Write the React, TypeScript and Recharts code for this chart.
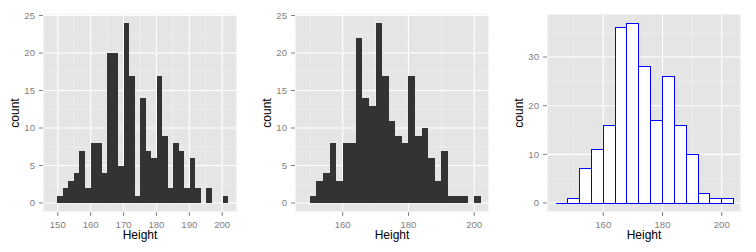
import { BarChart, Bar, XAxis, YAxis, CartesianGrid } from 'recharts';

// three histograms of the same Height sample, different bin widths
const p1Start = 149.9;
const p1Width = 1.675;
const p1Counts = [1, 2, 3, 4, 7, 2, 8, 8, 4, 20, 20, 5, 24, 17, 1, 14, 7, 6, 17, 9, 2, 8, 7, 2, 6, 2, 0, 2, 0, 0, 1];

const p2Start = 150;
const p2Width = 2;
const p2Counts = [1, 3, 4, 8, 3, 8, 8, 22, 14, 13, 24, 17, 11, 9, 8, 17, 9, 10, 6, 3, 7, 1, 1, 1, 0, 1];

const p3Start = 144;
const p3Width = 4;
const p3Counts = [0, 1, 7, 11, 16, 36, 37, 28, 17, 26, 16, 10, 2, 1, 1];

const p1XTicks = [150, 160, 170, 180, 190, 200];
const p1XMinor = [155, 165, 175, 185, 195];
const wideXTicks = [160, 180, 200];
const wideXMinor = [150, 170, 190];
const yTicks25 = [0, 5, 10, 15, 20, 25];
const yMinor25 = [2.5, 7.5, 12.5, 17.5, 22.5];
const yTicks30 = [0, 10, 20, 30];
const yMinor30 = [5, 15, 25, 35];

type BinRow = { x: number; count: number };

function toBins(start: number, width: number, counts: number[]): BinRow[] {
  return counts.map((c, i) => ({ x: start + (i + 0.5) * width, count: c }));
}

const W = 252;
const H = 252;
const MARGIN = { top: 14, right: 15, bottom: 0, left: 0 };
const Y_AXIS_W = 43;
const PLOT_W = W - MARGIN.left - MARGIN.right - Y_AXIS_W;

const tickStyle = { fill: '#7F7F7F', fontSize: 9.6 };
const tickLine = { stroke: '#7F7F7F' };

// recharts floors bar widths to whole pixels, which leaves seams between
// contiguous bins, so the shape uses the full bin width instead
function makeShape(binPx: number, outline: boolean) {
  return (props: any) => {
    const { x, y, height } = props;
    if (outline) {
      return (
        <path
          d={`M${x},${y}h${binPx}v${height}h${-binPx}Z`}
          fill='#FFFFFF'
          stroke='#0000FF'
          strokeWidth={1}
          shapeRendering='crispEdges'
        />
      );
    }
    if (!height) return <g />;
    return <rect x={x} y={y} width={binPx} height={height} fill='#333333' shapeRendering='crispEdges' />;
  };
}

const YTitle = (props: any) => {
  const vb = props.viewBox;
  const cx = vb.x + 19;
  const cy = vb.y + vb.height / 2;
  return (
    <text
      x={cx}
      y={cy}
      transform={`rotate(-90 ${cx} ${cy})`}
      textAnchor='middle'
      fontSize={12}
      fill='#000000'
    >
      count
    </text>
  );
};

interface HistProps {
  data: BinRow[];
  binWidth: number;
  xDomain: [number, number];
  xTicks: number[];
  xMinor: number[];
  yDomain: [number, number];
  yTicks: number[];
  yMinor: number[];
  outline?: boolean;
}

function Histogram({ data, binWidth, xDomain, xTicks, xMinor, yDomain, yTicks, yMinor, outline }: HistProps) {
  const binPx = (binWidth * PLOT_W) / (xDomain[1] - xDomain[0]);
  return (
    <BarChart width={W} height={H} data={data} margin={MARGIN} barCategoryGap={0} barGap={0}>
      <CartesianGrid xAxisId='minor' yAxisId='minor' fill='#E5E5E5' stroke='#F2F2F2' strokeWidth={0.6} />
      <CartesianGrid stroke='#FFFFFF' strokeWidth={1.1} />
      <XAxis xAxisId='minor' type='number' dataKey='x' domain={xDomain} ticks={xMinor} interval={0} allowDataOverflow hide />
      <YAxis yAxisId='minor' type='number' domain={yDomain} ticks={yMinor} interval={0} allowDataOverflow hide />
      <XAxis
        type='number'
        dataKey='x'
        domain={xDomain}
        ticks={xTicks}
        interval={0}
        allowDataOverflow
        height={40}
        axisLine={false}
        tickLine={tickLine}
        tickSize={4}
        tickMargin={5}
        tick={tickStyle}
        label={{ value: 'Height', position: 'insideBottom', offset: 13, fill: '#000000', fontSize: 12 }}
      />
      <YAxis
        type='number'
        domain={yDomain}
        ticks={yTicks}
        interval={0}
        allowDataOverflow
        width={Y_AXIS_W}
        axisLine={false}
        tickLine={tickLine}
        tickSize={4}
        tickMargin={4}
        tick={tickStyle}
        label={<YTitle />}
      />
      <Bar dataKey='count' shape={makeShape(binPx, !!outline)} isAnimationActive={false} />
    </BarChart>
  );
}

export default function App() {
  return (
    <div
      style={{
        position: 'absolute',
        left: 0,
        top: 0,
        width: 756,
        height: 252,
        display: 'flex',
        background: '#FFFFFF',
        fontFamily: '"Liberation Sans", Arial, sans-serif',
      }}
    >
      <Histogram
        data={toBins(p1Start, p1Width, p1Counts)}
        binWidth={p1Width}
        xDomain={[145.5, 204.5]}
        xTicks={p1XTicks}
        xMinor={p1XMinor}
        yDomain={[-1.2, 25.2]}
        yTicks={yTicks25}
        yMinor={yMinor25}
      />
      <Histogram
        data={toBins(p2Start, p2Width, p2Counts)}
        binWidth={p2Width}
        xDomain={[145.5, 204.5]}
        xTicks={wideXTicks}
        xMinor={wideXMinor}
        yDomain={[-1.2, 25.2]}
        yTicks={yTicks25}
        yMinor={yMinor25}
      />
      <Histogram
        data={toBins(p3Start, p3Width, p3Counts)}
        binWidth={p3Width}
        xDomain={[141, 206.5]}
        xTicks={wideXTicks}
        xMinor={wideXMinor}
        yDomain={[-1.85, 38.85]}
        yTicks={yTicks30}
        yMinor={yMinor30}
        outline
      />
    </div>
  );
}
